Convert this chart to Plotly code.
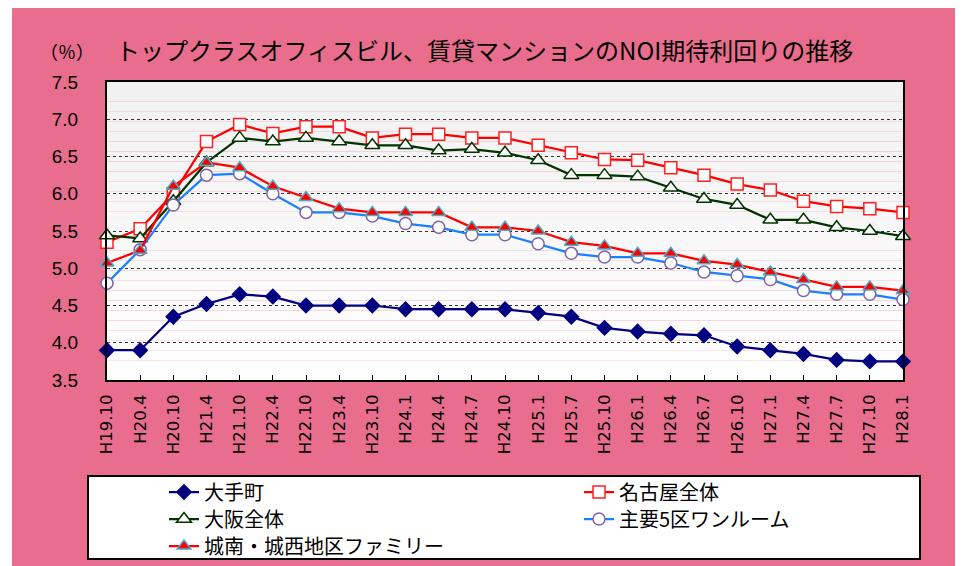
import plotly.graph_objects as go

categories = ["H19.10", "H20.4", "H20.10", "H21.4", "H21.10", "H22.4", "H22.10", "H23.4",
              "H23.10", "H24.1", "H24.4", "H24.7", "H24.10", "H25.1", "H25.7", "H25.10",
              "H26.1", "H26.4", "H26.7", "H26.10", "H27.1", "H27.4", "H27.7", "H27.10", "H28.1"]

otemachi = [3.90, 3.90, 4.35, 4.52, 4.65, 4.62, 4.50, 4.50, 4.50, 4.45, 4.45, 4.45, 4.45,
            4.40, 4.35, 4.20, 4.15, 4.12, 4.10, 3.95, 3.90, 3.85, 3.77, 3.75, 3.75]
nagoya = [5.35, 5.53, 6.00, 6.70, 6.93, 6.81, 6.90, 6.90, 6.75, 6.80, 6.80, 6.75, 6.75,
          6.65, 6.55, 6.46, 6.45, 6.35, 6.25, 6.13, 6.05, 5.90, 5.83, 5.80, 5.75]
osaka = [5.44, 5.40, 5.90, 6.42, 6.75, 6.70, 6.75, 6.70, 6.65, 6.65, 6.58, 6.60, 6.55,
         6.45, 6.25, 6.25, 6.23, 6.08, 5.93, 5.85, 5.65, 5.65, 5.55, 5.50, 5.43]
oneroom = [4.80, 5.25, 5.85, 6.25, 6.27, 6.00, 5.75, 5.75, 5.70, 5.60, 5.55, 5.45, 5.45,
           5.33, 5.20, 5.15, 5.15, 5.07, 4.95, 4.90, 4.85, 4.70, 4.65, 4.65, 4.58]
family = [5.07, 5.24, 6.10, 6.42, 6.35, 6.10, 5.95, 5.80, 5.75, 5.75, 5.75, 5.55, 5.55,
          5.50, 5.35, 5.30, 5.20, 5.20, 5.10, 5.05, 4.95, 4.85, 4.75, 4.75, 4.70]

names = ["大手町", "名古屋全体", "大阪全体", "主要5区ワンルーム", "城南・城西地区ファミリー"]
title_text = "トップクラスオフィスビル、賃貸マンションのNOI期待利回りの推移"
unit_text = "（％）"
y_ticks = [3.5, 4.0, 4.5, 5.0, 5.5, 6.0, 6.5, 7.0, 7.5]

PINK = "#E96E8E"
FONT = "Noto Sans CJK JP"
NUM_FONT = "Liberation Sans"

# page geometry (the page body adds an 8px offset around the figure)
OFF = 8
PAGE_W, PAGE_H = 963, 566
L, R, T, B = 107, 903, 82, 380   # plot area in page pixels
PW, PH = R - L, B - T


def px(x):
    return (x - L) / PW


def py(y):
    return (B - y) / PH


fig = go.Figure()

styles = [
    dict(data=otemachi, line="#000080", symbol="diamond", fill="#000080", outline="#000080", size=11),
    dict(data=nagoya, line="#FF0000", symbol="square", fill="#FFFFFF", outline="#FF2020", size=12),
    dict(data=osaka, line="#003300", symbol="triangle-up", fill="#FFFFFF", outline="#003300", size=13),
    dict(data=oneroom, line="#1A80FF", symbol="circle", fill="#FFFFFF", outline="#8064A2", size=12),
    dict(data=family, line="#FF0000", symbol="triangle-up", fill="#FF0000", outline="#4BACC6", size=12),
]
legend_ids = ["legend", "legend2", "legend3", "legend4", "legend5"]
legend_pos = [(164, 492), (579, 492), (164, 519), (579, 519), (164, 546)]

for name, st, lid in zip(names, styles, legend_ids):
    fig.add_trace(go.Scatter(
        x=categories, y=st["data"], name=name, mode="lines+markers",
        line=dict(color=st["line"], width=2.25),
        marker=dict(symbol=st["symbol"], size=st["size"], color=st["fill"],
                    line=dict(color=st["outline"], width=1.5)),
        cliponaxis=False, legend=lid,
    ))

shapes = []
# outer pink panel
shapes.append(dict(type="rect", xref="paper", yref="paper", layer="below",
                   x0=px(12), x1=px(961), y0=py(580), y1=py(6),
                   fillcolor=PINK, line=dict(width=0)))
# gradient plot background
nb = 30
for i in range(nb):
    t = i / nb
    g = int(round(241 + 14 * t))
    shapes.append(dict(type="rect", xref="x domain", yref="y domain", layer="below",
                       x0=0, x1=1, y0=1 - (i + 1) / nb, y1=1 - i / nb,
                       fillcolor=f"rgb({g},{g},{g})", line=dict(width=0)))
# legend box
shapes.append(dict(type="rect", xref="paper", yref="paper", layer="below",
                   x0=px(88), x1=px(920), y0=py(559), y1=py(476),
                   fillcolor="#FFFFFF", line=dict(color="#000000", width=2)))

layout_legends = {}
for lid, (lx, ly) in zip(legend_ids, legend_pos):
    layout_legends[lid] = dict(
        x=px(lx), y=py(ly), xanchor="left", yanchor="middle",
        bgcolor="rgba(0,0,0,0)", borderwidth=0, orientation="v",
        font=dict(family=FONT, size=20, color="#000000"), itemwidth=30,
    )

fig.update_layout(
    width=PAGE_W - OFF, height=PAGE_H - OFF,
    margin=dict(l=L - OFF, r=PAGE_W - R, t=T - OFF, b=PAGE_H - B, autoexpand=False),
    paper_bgcolor="#FFFFFF",
    plot_bgcolor="rgba(0,0,0,0)",
    shapes=shapes,
    font=dict(family=FONT, color="#000000"),
    showlegend=True,
    annotations=[
        dict(text=unit_text, xref="paper", yref="paper", x=px(67), y=py(51),
             xanchor="center", yanchor="middle", showarrow=False,
             font=dict(family=FONT, size=18, color="#000000")),
        dict(text=title_text, xref="paper", yref="paper", x=px(114), y=py(50),
             xanchor="left", yanchor="middle", showarrow=False,
             font=dict(family=FONT, size=24, color="#000000")),
    ],
    **layout_legends,
)

fig.update_xaxes(
    type="category", range=[0, len(categories) - 1],
    showline=True, linecolor="#000000", linewidth=2, mirror=True,
    ticks="inside", ticklen=5, tickcolor="#000000", tickwidth=1,
    tickangle=-90, tickfont=dict(family="DejaVu Sans", size=16.5, color="#000000"),
    showgrid=False, zeroline=False, ticklabelstandoff=6, automargin=False,
)
fig.update_yaxes(
    range=[3.5, 7.5], tickvals=y_ticks, ticktext=[f"{v:.1f}" for v in y_ticks],
    showline=True, linecolor="#000000", linewidth=2, mirror=True,
    ticks="", tickfont=dict(family=NUM_FONT, size=19, color="#000000"),
    showgrid=True, gridcolor="#333333", gridwidth=1, griddash="dot",
    zeroline=False, ticklabelstandoff=23, automargin=False,
)

fig.write_html("out.html")
